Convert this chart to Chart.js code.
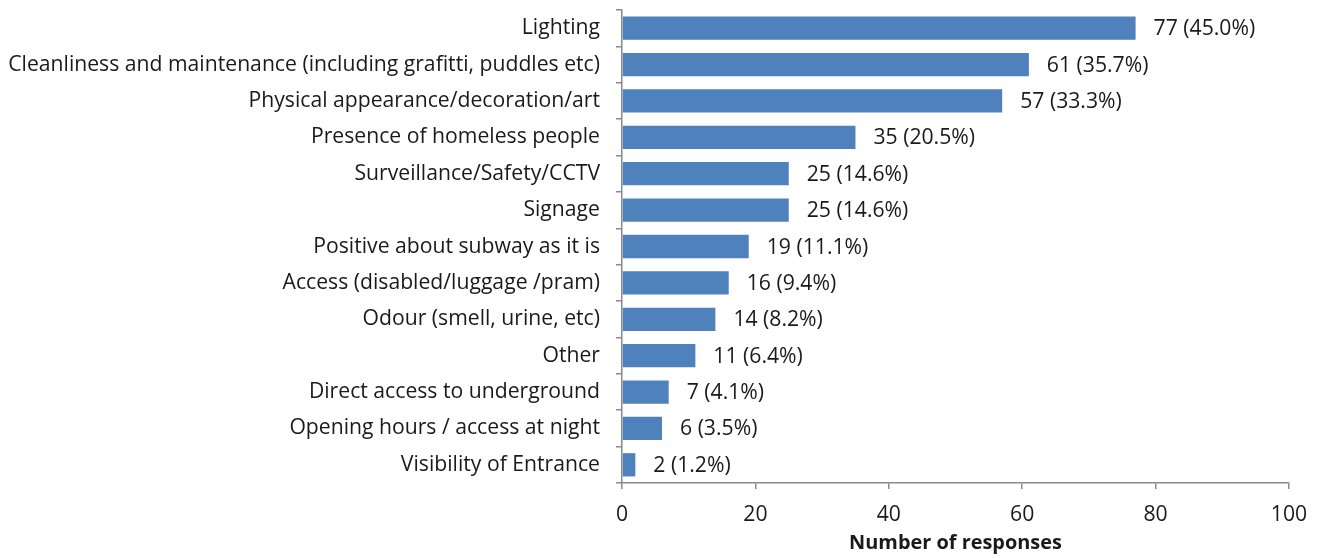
<!DOCTYPE html>
<html>
<head>
<meta charset="utf-8">
<script src="https://cdn.jsdelivr.net/npm/chart.js@4.4.0/dist/chart.umd.min.js"></script>
<style>
html,body{margin:0;padding:0;background:#fff;}
#wrap{width:1324px;height:558px;position:relative;}
</style>
</head>
<body>
<div id="wrap"><canvas id="c" width="1324" height="558"></canvas></div>
<script>
const categories = [
  "Lighting",
  "Cleanliness and maintenance (including grafitti, puddles etc)",
  "Physical appearance/decoration/art",
  "Presence of homeless people",
  "Surveillance/Safety/CCTV",
  "Signage",
  "Positive about subway as it is",
  "Access (disabled/luggage /pram)",
  "Odour (smell, urine, etc)",
  "Other",
  "Direct access to underground",
  "Opening hours / access at night",
  "Visibility of Entrance"
];
const responses = [77, 61, 57, 35, 25, 25, 19, 16, 14, 11, 7, 6, 2];
const percents = ["45.0", "35.7", "33.3", "20.5", "14.6", "14.6", "11.1", "9.4", "8.2", "6.4", "4.1", "3.5", "1.2"];
const xTicks = [0, 20, 40, 60, 80, 100];
const axisTitle = "Number of responses";

const FONT = "'Open Sans', Lato, sans-serif";
const TEXT = "#1a1a1a";
const AXIS = "#8a8a8a";

// fit font sizes to the reference text widths
const mctx = document.createElement('canvas').getContext('2d');
function fitSize(text, target, weight) {
  mctx.font = (weight || '') + " 20px " + FONT;
  return 20 * target / mctx.measureText(text).width;
}
const LABEL_SIZE = fitSize(categories[1], 592, '');
const TITLE_SIZE = fitSize(axisTitle, 213, 'bold');

const valueLabels = {
  id: 'valueLabels',
  afterDatasetsDraw(chart) {
    const ctx = chart.ctx;
    const meta = chart.getDatasetMeta(0);
    ctx.save();
    ctx.font = LABEL_SIZE + "px " + FONT;
    ctx.fillStyle = TEXT;
    ctx.textAlign = 'left';
    ctx.textBaseline = 'middle';
    meta.data.forEach((bar, i) => {
      ctx.fillText(responses[i] + " (" + percents[i] + "%)", bar.x + 18, bar.y + 1);
    });
    ctx.restore();
  }
};

new Chart(document.getElementById('c'), {
  type: 'bar',
  data: {
    labels: categories,
    datasets: [{
      data: responses,
      backgroundColor: '#4F81BD',
      borderWidth: 0,
      categoryPercentage: 1,
      barPercentage: 0.64
    }]
  },
  options: {
    indexAxis: 'y',
    responsive: false,
    animation: false,
    layout: { padding: { top: 10, right: 35, left: 0, bottom: 0 } },
    plugins: { legend: { display: false }, tooltip: { enabled: false } },
    scales: {
      x: {
        min: 0, max: 100,
        afterBuildTicks(scale) { scale.ticks = xTicks.map(v => ({ value: v })); },
        afterFit(scale) { scale.height = 75; scale.paddingLeft = 0; scale.paddingRight = 0; },
        grid: { drawOnChartArea: false, drawTicks: true, tickLength: 6, color: AXIS, lineWidth: 1.5 },
        border: { color: AXIS, width: 1.5 },
        ticks: { color: TEXT, font: { size: LABEL_SIZE, family: FONT }, padding: 13, maxRotation: 0 },
        title: { display: true, text: axisTitle, color: TEXT, font: { size: TITLE_SIZE, weight: 'bold', family: FONT }, padding: { top: 0, bottom: 3 } }
      },
      y: {
        afterFit(scale) { scale.width = 622; scale.paddingTop = 0; scale.paddingBottom = 0; },
        grid: { drawOnChartArea: false, drawTicks: true, tickLength: 6, color: AXIS, lineWidth: 1.5, offset: true },
        border: { color: AXIS, width: 1.5 },
        ticks: { color: TEXT, font: { size: LABEL_SIZE, family: FONT }, padding: 16, autoSkip: false }
      }
    }
  },
  plugins: [valueLabels]
});
</script>
</body>
</html>
